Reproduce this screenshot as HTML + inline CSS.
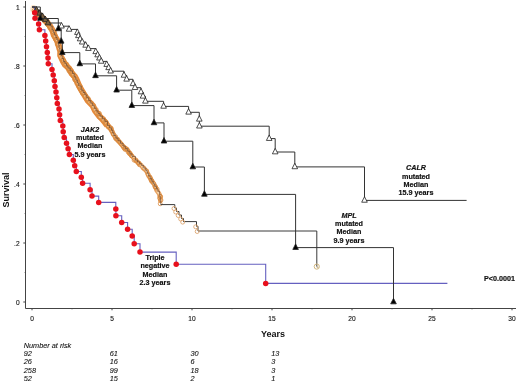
<!DOCTYPE html>
<html><head><meta charset="utf-8"><style>
html,body{margin:0;padding:0;background:#fff;}
svg{display:block;will-change:transform;}
</style></head><body>
<svg width="520" height="382" viewBox="0 0 520 382">
<rect width="520" height="382" fill="#fff"/>
<g stroke="#444" stroke-width="1" fill="none">
<path d="M25.5,1V308.5H516"/>
<path d="M23.3,302.0H25.5"/>
<path d="M23.3,243.0H25.5"/>
<path d="M23.3,184.0H25.5"/>
<path d="M23.3,125.0H25.5"/>
<path d="M23.3,66.0H25.5"/>
<path d="M23.3,7.0H25.5"/>
<path d="M24.3,272.5H25.5" stroke-width="0.7" opacity="0.6"/>
<path d="M24.3,213.5H25.5" stroke-width="0.7" opacity="0.6"/>
<path d="M24.3,154.5H25.5" stroke-width="0.7" opacity="0.6"/>
<path d="M24.3,95.5H25.5" stroke-width="0.7" opacity="0.6"/>
<path d="M24.3,36.5H25.5" stroke-width="0.7" opacity="0.6"/>
<path d="M32.0,308.5V310.3"/>
<path d="M72.0,308.5V309.6" stroke-width="0.8" opacity="0.6"/>
<path d="M112.0,308.5V310.3"/>
<path d="M152.0,308.5V309.6" stroke-width="0.8" opacity="0.6"/>
<path d="M192.0,308.5V310.3"/>
<path d="M232.0,308.5V309.6" stroke-width="0.8" opacity="0.6"/>
<path d="M272.0,308.5V310.3"/>
<path d="M312.0,308.5V309.6" stroke-width="0.8" opacity="0.6"/>
<path d="M352.0,308.5V310.3"/>
<path d="M392.0,308.5V309.6" stroke-width="0.8" opacity="0.6"/>
<path d="M432.0,308.5V310.3"/>
<path d="M472.0,308.5V309.6" stroke-width="0.8" opacity="0.6"/>
<path d="M512.0,308.5V310.3"/>
</g>
<g font-family="Liberation Sans, sans-serif" font-size="6.6" fill="#111" stroke="#111" stroke-width="0.12" text-anchor="end">
<text x="19.6" y="305.2">0</text>
<text x="19.6" y="246.2">.2</text>
<text x="19.6" y="187.2">.4</text>
<text x="19.6" y="128.2">.6</text>
<text x="19.6" y="69.2">.8</text>
<text x="19.6" y="10.2">1</text>
</g>
<g font-family="Liberation Sans, sans-serif" font-size="6.6" fill="#111" stroke="#111" stroke-width="0.12" text-anchor="middle">
<text x="32.0" y="320.6">0</text>
<text x="112.0" y="320.6">5</text>
<text x="192.0" y="320.6">10</text>
<text x="272.0" y="320.6">15</text>
<text x="352.0" y="320.6">20</text>
<text x="432.0" y="320.6">25</text>
<text x="512.0" y="320.6">30</text>
</g>
<text x="273" y="337.2" font-family="Liberation Sans, sans-serif" font-weight="bold" font-size="9" fill="#111" text-anchor="middle">Years</text>
<text transform="translate(9.3,190) rotate(-90)" font-family="Liberation Sans, sans-serif" font-weight="bold" font-size="9" fill="#111" text-anchor="middle">Survival</text>
<ellipse cx="33.5" cy="9" rx="3.2" ry="4" fill="#f7d6ae" opacity="0.7"/>
<polyline points="34.4,9.5 38.1,14.0 42.8,18.0 45.9,21.5 50.0,26.0 52.4,30.0 53.9,35.0 57.0,40.0 58.5,45.0 60.4,51.4 60.3,55.5 63.1,61.5 65.0,64.8 68.6,68.0 70.6,70.8 71.7,73.5 75.0,76.8 76.6,80.0 79.1,86.0 81.4,90.0 84.4,95.0 87.8,100.5 92.7,105.7 95.2,110.9 99.4,116.2 102.0,118.8 104.1,121.4 107.4,125.5" fill="none" stroke="#e6893a" stroke-width="6.2" stroke-linejoin="round" stroke-linecap="butt"/>
<polyline points="34.4,9.5 38.1,14.0 42.8,18.0 45.9,21.5 50.0,26.0 52.4,30.0 53.9,35.0 57.0,40.0 58.5,45.0 60.4,51.4 60.3,55.5 63.1,61.5 65.0,64.8 68.6,68.0 70.6,70.8 71.7,73.5 75.0,76.8 76.6,80.0 79.1,86.0 81.4,90.0 84.4,95.0 87.8,100.5 92.7,105.7 95.2,110.9 99.4,116.2 102.0,118.8 104.1,121.4 107.4,125.5" fill="none" stroke="#f2c48e" stroke-width="2.8" stroke-linejoin="round" stroke-linecap="butt"/>
<polyline points="107.4,125.5 110.0,127.8 111.5,130.2 114.0,135.5 115.9,138.1 118.2,140.7 120.4,143.3 122.7,146.0 126.0,148.6 128.4,151.2 130.3,153.8 132.3,156.4 135.2,160.2 138.2,162.8 141.4,165.5 143.2,168.1 146.4,170.7 148.5,175.9 150.6,178.6 151.5,181.2 153.9,183.8 155.3,186.4 156.5,190.1 159.1,193.7 160.5,197.0 160.3,200.8" fill="none" stroke="#e6a060" stroke-width="4.6" stroke-linejoin="round" stroke-linecap="round"/>
<polyline points="107.4,125.5 110.0,127.8 111.5,130.2 114.0,135.5 115.9,138.1 118.2,140.7 120.4,143.3 122.7,146.0 126.0,148.6 128.4,151.2 130.3,153.8 132.3,156.4 135.2,160.2 138.2,162.8 141.4,165.5 143.2,168.1 146.4,170.7 148.5,175.9 150.6,178.6 151.5,181.2 153.9,183.8 155.3,186.4 156.5,190.1 159.1,193.7 160.5,197.0 160.3,200.8" fill="none" stroke="#f6d3a8" stroke-width="2.2" stroke-linejoin="round" stroke-linecap="round"/>
<g fill="none" stroke="#da8a3e" stroke-width="0.75"><circle cx="34.5" cy="10.6" r="2.3"/><circle cx="35.9" cy="11.9" r="2.3"/><circle cx="38.4" cy="14.2" r="2.3"/><circle cx="40.1" cy="15.1" r="2.3"/><circle cx="40.3" cy="15.9" r="2.3"/><circle cx="42.2" cy="17.4" r="2.3"/><circle cx="42.3" cy="18.3" r="2.3"/><circle cx="45.8" cy="20.3" r="2.3"/><circle cx="46.6" cy="21.7" r="2.3"/><circle cx="47.4" cy="21.8" r="2.3"/><circle cx="47.8" cy="22.7" r="2.3"/><circle cx="47.3" cy="23.1" r="2.3"/><circle cx="48.3" cy="24.7" r="2.3"/><circle cx="49.3" cy="26.0" r="2.3"/><circle cx="50.1" cy="26.6" r="2.3"/><circle cx="50.0" cy="27.7" r="2.3"/><circle cx="51.2" cy="29.4" r="2.3"/><circle cx="53.4" cy="31.6" r="2.3"/><circle cx="53.0" cy="31.4" r="2.3"/><circle cx="54.3" cy="32.6" r="2.3"/><circle cx="55.0" cy="35.2" r="2.3"/><circle cx="54.5" cy="36.4" r="2.3"/><circle cx="55.1" cy="37.1" r="2.3"/><circle cx="56.1" cy="39.7" r="2.3"/><circle cx="56.2" cy="39.6" r="2.3"/><circle cx="56.6" cy="40.5" r="2.3"/><circle cx="57.6" cy="41.4" r="2.3"/><circle cx="58.4" cy="43.8" r="2.3"/><circle cx="58.3" cy="44.1" r="2.3"/><circle cx="57.6" cy="44.2" r="2.3"/><circle cx="59.6" cy="49.2" r="2.3"/><circle cx="60.7" cy="50.7" r="2.3"/><circle cx="60.6" cy="53.1" r="2.3"/><circle cx="62.1" cy="58.1" r="2.3"/><circle cx="63.1" cy="60.1" r="2.3"/><circle cx="63.3" cy="60.3" r="2.3"/><circle cx="63.7" cy="60.8" r="2.3"/><circle cx="64.9" cy="63.0" r="2.3"/><circle cx="65.8" cy="64.4" r="2.3"/><circle cx="66.6" cy="64.5" r="2.3"/><circle cx="67.5" cy="67.0" r="2.3"/><circle cx="68.3" cy="68.0" r="2.3"/><circle cx="69.3" cy="68.4" r="2.3"/><circle cx="69.0" cy="69.9" r="2.3"/><circle cx="69.4" cy="71.0" r="2.3"/><circle cx="70.5" cy="71.8" r="2.3"/><circle cx="71.5" cy="71.4" r="2.3"/><circle cx="72.3" cy="73.4" r="2.3"/><circle cx="73.1" cy="74.1" r="2.3"/><circle cx="73.4" cy="75.9" r="2.3"/><circle cx="74.8" cy="79.0" r="2.3"/><circle cx="75.3" cy="79.9" r="2.3"/><circle cx="76.3" cy="80.7" r="2.3"/><circle cx="77.1" cy="83.3" r="2.3"/><circle cx="79.1" cy="86.1" r="2.3"/><circle cx="79.9" cy="86.2" r="2.3"/><circle cx="79.9" cy="87.2" r="2.3"/><circle cx="80.6" cy="89.3" r="2.3"/><circle cx="81.7" cy="91.0" r="2.3"/><circle cx="83.0" cy="92.4" r="2.3"/><circle cx="82.6" cy="92.5" r="2.3"/><circle cx="83.0" cy="93.3" r="2.3"/><circle cx="84.6" cy="94.8" r="2.3"/><circle cx="85.6" cy="96.1" r="2.3"/><circle cx="87.3" cy="98.4" r="2.3"/><circle cx="88.2" cy="99.0" r="2.3"/><circle cx="88.0" cy="99.8" r="2.3"/><circle cx="89.5" cy="102.0" r="2.3"/><circle cx="91.5" cy="103.5" r="2.3"/><circle cx="93.5" cy="106.1" r="2.3"/><circle cx="95.9" cy="109.7" r="2.3"/><circle cx="96.7" cy="112.6" r="2.3"/><circle cx="98.4" cy="113.5" r="2.3"/><circle cx="99.2" cy="113.7" r="2.3"/><circle cx="99.7" cy="116.7" r="2.3"/><circle cx="100.1" cy="117.0" r="2.3"/><circle cx="103.5" cy="119.2" r="2.3"/><circle cx="103.8" cy="120.7" r="2.3"/><circle cx="105.3" cy="121.6" r="2.3"/><circle cx="106.1" cy="122.5" r="2.3"/><circle cx="106.0" cy="124.0" r="2.3"/><circle cx="108.1" cy="126.2" r="2.3"/><circle cx="108.3" cy="125.8" r="2.3"/><circle cx="108.8" cy="127.2" r="2.3"/><circle cx="110.3" cy="127.9" r="2.3"/><circle cx="110.6" cy="128.7" r="2.3"/><circle cx="111.1" cy="128.7" r="2.3"/><circle cx="111.4" cy="130.9" r="1.95"/><circle cx="112.4" cy="131.7" r="1.95"/><circle cx="113.4" cy="134.0" r="1.95"/><circle cx="113.0" cy="133.9" r="1.95"/><circle cx="115.6" cy="136.5" r="1.95"/><circle cx="115.5" cy="138.4" r="1.95"/><circle cx="116.4" cy="139.2" r="1.95"/><circle cx="117.7" cy="139.2" r="1.95"/><circle cx="117.6" cy="140.2" r="1.95"/><circle cx="118.6" cy="141.3" r="1.95"/><circle cx="119.5" cy="141.7" r="1.95"/><circle cx="120.4" cy="143.2" r="1.95"/><circle cx="121.4" cy="143.9" r="1.95"/><circle cx="122.7" cy="145.7" r="1.95"/><circle cx="123.4" cy="147.4" r="1.95"/><circle cx="125.1" cy="148.1" r="1.95"/><circle cx="124.6" cy="148.6" r="1.95"/><circle cx="125.0" cy="149.5" r="1.95"/><circle cx="126.8" cy="149.1" r="1.95"/><circle cx="127.3" cy="149.7" r="1.95"/><circle cx="128.0" cy="151.9" r="1.95"/><circle cx="129.1" cy="153.3" r="1.95"/><circle cx="130.1" cy="153.3" r="1.95"/><circle cx="129.9" cy="153.9" r="1.95"/><circle cx="131.3" cy="155.6" r="1.95"/><circle cx="131.5" cy="155.9" r="1.95"/><circle cx="134.1" cy="160.2" r="1.95"/><circle cx="135.9" cy="159.9" r="1.95"/><circle cx="136.3" cy="160.8" r="1.95"/><circle cx="138.1" cy="162.7" r="1.95"/><circle cx="138.5" cy="163.2" r="1.95"/><circle cx="138.9" cy="163.0" r="1.95"/><circle cx="139.4" cy="164.8" r="1.95"/><circle cx="144.0" cy="168.1" r="1.95"/><circle cx="146.7" cy="171.1" r="1.95"/><circle cx="148.2" cy="174.4" r="1.95"/><circle cx="150.0" cy="177.0" r="1.95"/><circle cx="150.1" cy="177.8" r="1.95"/><circle cx="150.9" cy="179.6" r="1.95"/><circle cx="151.9" cy="180.6" r="1.95"/><circle cx="152.0" cy="181.3" r="1.95"/><circle cx="153.5" cy="183.2" r="1.95"/><circle cx="155.0" cy="186.8" r="1.95"/><circle cx="155.2" cy="186.6" r="1.95"/><circle cx="155.8" cy="187.6" r="1.95"/><circle cx="157.2" cy="189.2" r="1.95"/><circle cx="159.9" cy="196.3" r="1.95"/><circle cx="160.6" cy="196.5" r="1.95"/><circle cx="159.5" cy="198.1" r="1.95"/><circle cx="161.0" cy="200.1" r="1.95"/><circle cx="160.2" cy="203.8" r="1.95"/></g>
<path d="M32.0,7.0H34.5V9.5H36.2V11.8H38.0V14.0H40.0V16.0H42.0V18.0H44.0V19.8H46.0V21.5H48.0V23.8H50.0V26.0H52.2V30.0H53.4V32.5H54.5V35.0H55.8V37.5H57.0V40.0H58.3V45.0H59.1V48.2H59.9V51.4H61.0V55.5H62.2V58.5H63.5V61.5H65.0V63.7H66.5V65.8H68.0V68.0H70.2V70.8H72.5V73.5H74.2V76.8H75.8V80.0H77.3V83.0H78.8V86.0H81.2V90.0H83.1V92.5H85.0V95.0H86.8V97.8H88.7V100.5H90.7V103.1H92.6V105.7H94.3V108.3H96.0V110.9H98.0V113.6H100.0V116.2H102.5V118.8H104.9V121.4H107.5V125.5H109.5V127.8H111.5V130.2H112.7V132.8H113.8V135.5H115.9V138.1H118.0V140.7H120.5V143.3H123.0V146.0H125.3V148.6H127.7V151.2H129.8V153.8H132.0V156.4H135.5V160.2H137.6V162.0H139.6V163.7H141.7V165.5H143.8V168.1H146.0V170.7H147.3V173.3H148.6V175.9H150.1V178.6H151.7V181.2H153.2V183.8H154.8V186.4H156.4V188.8H157.9V191.3H159.5V193.7H159.9V197.0H160.3V200.8H160.7V204.6" fill="none" stroke="#5e4434" stroke-width="0.75" opacity="0.85"/>
<path d="M160.7,204.6H174.8V208H176.5V211.5H179V215H181.5V218.5H183.5V221.6H196.5V226.3H198V231H316.8V266.6" fill="none" stroke="#3a3a3a" stroke-width="1"/>
<circle cx="174.0" cy="208.5" r="2.0" fill="none" stroke="#dca26a" stroke-width="0.85"/>
<circle cx="175.7" cy="212.0" r="2.0" fill="none" stroke="#dca26a" stroke-width="0.85"/>
<circle cx="178.2" cy="215.5" r="2.0" fill="none" stroke="#dca26a" stroke-width="0.85"/>
<circle cx="180.7" cy="219.0" r="2.0" fill="none" stroke="#dca26a" stroke-width="0.85"/>
<circle cx="182.7" cy="222.1" r="2.0" fill="none" stroke="#dca26a" stroke-width="0.85"/>
<circle cx="195.7" cy="226.8" r="2.0" fill="none" stroke="#dca26a" stroke-width="0.85"/>
<circle cx="197.2" cy="231.5" r="2.0" fill="none" stroke="#dca26a" stroke-width="0.85"/>
<circle cx="316.8" cy="266.6" r="2.6" fill="none" stroke="#d2b880" stroke-width="1"/>
<circle cx="317.6" cy="267.2" r="1.0" fill="#b8a070" opacity="0.7"/>
<path d="M32,7H34.7V12.67H35V18.35H38.6V24H39.4V29.7H44.9V35.4H45.7V41H46.5V46.7H47.3V52.4H48V58H48.3V63.7H52V69.4H53.2V75H54.3V80.7H55V86.4H56V92H56.8V97.8H57.3V103.4H59V109.1H59.6V114.8H60.3V120.5H62.8V126.1H63.2V131.8H64.2V137.5H66.5V143.2H68.1V148.8H69.4V154.5H73.3V160.2H74.7V165.8H76.3V171.5H81.3V177.2H82.6V183.2H90.1V189.8H92V196.1H98.7V202.4H115.8V209H115.9V215.7H121.7V222.5H127.6V229.3H132.2V235.9H134.2V243.7H140V252.1H176.2V264.3H265.7V283.4H447.4" fill="none" stroke="#6560c0" stroke-width="1.1"/>
<path d="M32,7H36.5V10.2H39.5V13.4H42.5V16.6H45.3V19.8H48V23.0H61.5V26.2H69.1V29.4H77.4V32.6H78.4V35.8H80.1V39.0H82.2V42.2H85.6V45.4H88.4V48.6H95.7V51.8H97.6V55.0H99.4V58.2H101.2V61.4H106.7V64.6H108.6V67.8H110.6V71.2H124V75.4H126.6V79.3H133V83.8H135V87.7H141V92.0H143V96.3H145.4V101.3H163.6V106.4H188.6V112.3H199.3V119.3H199.4V126.2H269.2V138.6H275.2V152.0H294.8V166.9H364.5V200.4H466.6" fill="none" stroke="#333" stroke-width="1"/>
<path d="M36.5,6.53L39.3,12.03L33.7,12.03Z" fill="#7a6040" stroke="#222" stroke-width="0.8"/>
<path d="M39.5,9.73L42.3,15.23L36.7,15.23Z" fill="#7a6040" stroke="#222" stroke-width="0.8"/>
<path d="M42.5,12.93L45.3,18.43L39.7,18.43Z" fill="#7a6040" stroke="#222" stroke-width="0.8"/>
<path d="M45.3,16.13L48.099999999999994,21.63L42.5,21.63Z" fill="#7a6040" stroke="#222" stroke-width="0.8"/>
<path d="M48,19.33L50.8,24.83L45.2,24.83Z" fill="#7a6040" stroke="#222" stroke-width="0.8"/>
<path d="M61.5,22.53L64.3,28.03L58.7,28.03Z" fill="#fff" stroke="#222" stroke-width="0.8"/>
<path d="M69.1,25.73L71.89999999999999,31.23L66.3,31.23Z" fill="#fff" stroke="#222" stroke-width="0.8"/>
<path d="M77.4,28.93L80.2,34.43L74.60000000000001,34.43Z" fill="#fff" stroke="#222" stroke-width="0.8"/>
<path d="M78.4,32.13L81.2,37.63L75.60000000000001,37.63Z" fill="#fff" stroke="#222" stroke-width="0.8"/>
<path d="M80.1,35.33L82.89999999999999,40.83L77.3,40.83Z" fill="#fff" stroke="#222" stroke-width="0.8"/>
<path d="M82.2,38.53L85.0,44.03L79.4,44.03Z" fill="#fff" stroke="#222" stroke-width="0.8"/>
<path d="M85.6,41.73L88.39999999999999,47.23L82.8,47.23Z" fill="#fff" stroke="#222" stroke-width="0.8"/>
<path d="M88.4,44.93L91.2,50.43L85.60000000000001,50.43Z" fill="#fff" stroke="#222" stroke-width="0.8"/>
<path d="M95.7,48.13L98.5,53.63L92.9,53.63Z" fill="#fff" stroke="#222" stroke-width="0.8"/>
<path d="M97.6,51.33L100.39999999999999,56.83L94.8,56.83Z" fill="#fff" stroke="#222" stroke-width="0.8"/>
<path d="M99.4,54.53L102.2,60.03L96.60000000000001,60.03Z" fill="#fff" stroke="#222" stroke-width="0.8"/>
<path d="M101.2,57.73L104.0,63.23L98.4,63.23Z" fill="#fff" stroke="#222" stroke-width="0.8"/>
<path d="M106.7,60.93L109.5,66.43L103.9,66.43Z" fill="#fff" stroke="#222" stroke-width="0.8"/>
<path d="M108.6,64.13L111.39999999999999,69.63L105.8,69.63Z" fill="#fff" stroke="#222" stroke-width="0.8"/>
<path d="M110.6,67.53L113.39999999999999,73.03L107.8,73.03Z" fill="#fff" stroke="#222" stroke-width="0.8"/>
<path d="M124,71.73L126.8,77.23L121.2,77.23Z" fill="#fff" stroke="#222" stroke-width="0.8"/>
<path d="M126.6,75.63L129.4,81.13L123.8,81.13Z" fill="#fff" stroke="#222" stroke-width="0.8"/>
<path d="M133,80.13L135.8,85.63L130.2,85.63Z" fill="#fff" stroke="#222" stroke-width="0.8"/>
<path d="M135,84.03L137.8,89.53L132.2,89.53Z" fill="#fff" stroke="#222" stroke-width="0.8"/>
<path d="M141,88.33L143.8,93.83L138.2,93.83Z" fill="#fff" stroke="#222" stroke-width="0.8"/>
<path d="M143,92.63L145.8,98.13L140.2,98.13Z" fill="#fff" stroke="#222" stroke-width="0.8"/>
<path d="M145.4,97.63L148.20000000000002,103.13L142.6,103.13Z" fill="#fff" stroke="#222" stroke-width="0.8"/>
<path d="M163.6,102.73L166.4,108.23L160.79999999999998,108.23Z" fill="#fff" stroke="#222" stroke-width="0.8"/>
<path d="M188.6,108.63L191.4,114.13L185.79999999999998,114.13Z" fill="#fff" stroke="#222" stroke-width="0.8"/>
<path d="M199.3,115.63L202.10000000000002,121.13L196.5,121.13Z" fill="#fff" stroke="#222" stroke-width="0.8"/>
<path d="M199.4,122.53L202.20000000000002,128.03L196.6,128.03Z" fill="#fff" stroke="#222" stroke-width="0.8"/>
<path d="M269.2,134.93L272.0,140.43L266.4,140.43Z" fill="#fff" stroke="#222" stroke-width="0.8"/>
<path d="M275.2,148.33L278.0,153.83L272.4,153.83Z" fill="#fff" stroke="#222" stroke-width="0.8"/>
<path d="M294.8,163.23L297.6,168.73L292.0,168.73Z" fill="#fff" stroke="#222" stroke-width="0.8"/>
<path d="M364.5,196.73L367.3,202.23L361.7,202.23Z" fill="#fff" stroke="#222" stroke-width="0.8"/>
<path d="M32,7H40.3V18.5H58.3V28.9H61.2V41.3H62.3V52.6H79.8V63.9H95.5V75.8H116.6V90.2H131.8V105.6H154V122.9H164V141.2H192.8V167H204.4V194.4H295.6V247.6H393.5V302" fill="none" stroke="#333" stroke-width="1"/>
<path d="M40.3,14.83L43.099999999999994,20.33L37.5,20.33Z" fill="#000" stroke="#222" stroke-width="0.8"/>
<path d="M58.3,25.23L61.099999999999994,30.73L55.5,30.73Z" fill="#000" stroke="#222" stroke-width="0.8"/>
<path d="M61.2,37.63L64.0,43.13L58.400000000000006,43.13Z" fill="#000" stroke="#222" stroke-width="0.8"/>
<path d="M62.3,48.93L65.1,54.43L59.5,54.43Z" fill="#000" stroke="#222" stroke-width="0.8"/>
<path d="M79.8,60.23L82.6,65.73L77.0,65.73Z" fill="#000" stroke="#222" stroke-width="0.8"/>
<path d="M95.5,72.13L98.3,77.63L92.7,77.63Z" fill="#000" stroke="#222" stroke-width="0.8"/>
<path d="M116.6,86.53L119.39999999999999,92.03L113.8,92.03Z" fill="#000" stroke="#222" stroke-width="0.8"/>
<path d="M131.8,101.93L134.60000000000002,107.43L129.0,107.43Z" fill="#000" stroke="#222" stroke-width="0.8"/>
<path d="M154,119.23L156.8,124.73L151.2,124.73Z" fill="#000" stroke="#222" stroke-width="0.8"/>
<path d="M164,137.53L166.8,143.03L161.2,143.03Z" fill="#000" stroke="#222" stroke-width="0.8"/>
<path d="M192.8,163.33L195.60000000000002,168.83L190.0,168.83Z" fill="#000" stroke="#222" stroke-width="0.8"/>
<path d="M204.4,190.73L207.20000000000002,196.23L201.6,196.23Z" fill="#000" stroke="#222" stroke-width="0.8"/>
<path d="M295.6,243.93L298.40000000000003,249.43L292.8,249.43Z" fill="#000" stroke="#222" stroke-width="0.8"/>
<path d="M393.5,298.33L396.3,303.83L390.7,303.83Z" fill="#000" stroke="#222" stroke-width="0.8"/>
<circle cx="34.7" cy="12.67" r="2.75" fill="#e8101c"/>
<circle cx="35" cy="18.35" r="2.75" fill="#e8101c"/>
<circle cx="38.6" cy="24" r="2.75" fill="#e8101c"/>
<circle cx="39.4" cy="29.7" r="2.75" fill="#e8101c"/>
<circle cx="44.9" cy="35.4" r="2.75" fill="#e8101c"/>
<circle cx="45.7" cy="41" r="2.75" fill="#e8101c"/>
<circle cx="46.5" cy="46.7" r="2.75" fill="#e8101c"/>
<circle cx="47.3" cy="52.4" r="2.75" fill="#e8101c"/>
<circle cx="48" cy="58" r="2.75" fill="#e8101c"/>
<circle cx="48.3" cy="63.7" r="2.75" fill="#e8101c"/>
<circle cx="52" cy="69.4" r="2.75" fill="#e8101c"/>
<circle cx="53.2" cy="75" r="2.75" fill="#e8101c"/>
<circle cx="54.3" cy="80.7" r="2.75" fill="#e8101c"/>
<circle cx="55" cy="86.4" r="2.75" fill="#e8101c"/>
<circle cx="56" cy="92" r="2.75" fill="#e8101c"/>
<circle cx="56.8" cy="97.8" r="2.75" fill="#e8101c"/>
<circle cx="57.3" cy="103.4" r="2.75" fill="#e8101c"/>
<circle cx="59" cy="109.1" r="2.75" fill="#e8101c"/>
<circle cx="59.6" cy="114.8" r="2.75" fill="#e8101c"/>
<circle cx="60.3" cy="120.5" r="2.75" fill="#e8101c"/>
<circle cx="62.8" cy="126.1" r="2.75" fill="#e8101c"/>
<circle cx="63.2" cy="131.8" r="2.75" fill="#e8101c"/>
<circle cx="64.2" cy="137.5" r="2.75" fill="#e8101c"/>
<circle cx="66.5" cy="143.2" r="2.75" fill="#e8101c"/>
<circle cx="68.1" cy="148.8" r="2.75" fill="#e8101c"/>
<circle cx="69.4" cy="154.5" r="2.75" fill="#e8101c"/>
<circle cx="73.3" cy="160.2" r="2.75" fill="#e8101c"/>
<circle cx="74.7" cy="165.8" r="2.75" fill="#e8101c"/>
<circle cx="76.3" cy="171.5" r="2.75" fill="#e8101c"/>
<circle cx="81.3" cy="177.2" r="2.75" fill="#e8101c"/>
<circle cx="82.6" cy="183.2" r="2.75" fill="#e8101c"/>
<circle cx="90.1" cy="189.8" r="2.75" fill="#e8101c"/>
<circle cx="92" cy="196.1" r="2.75" fill="#e8101c"/>
<circle cx="98.7" cy="202.4" r="2.75" fill="#e8101c"/>
<circle cx="115.8" cy="209" r="2.75" fill="#e8101c"/>
<circle cx="115.9" cy="215.7" r="2.75" fill="#e8101c"/>
<circle cx="121.7" cy="222.5" r="2.75" fill="#e8101c"/>
<circle cx="127.6" cy="229.3" r="2.75" fill="#e8101c"/>
<circle cx="132.2" cy="235.9" r="2.75" fill="#e8101c"/>
<circle cx="134.2" cy="243.7" r="2.75" fill="#e8101c"/>
<circle cx="140" cy="252.1" r="2.75" fill="#e8101c"/>
<circle cx="176.2" cy="264.3" r="2.75" fill="#e8101c"/>
<circle cx="265.7" cy="283.4" r="2.75" fill="#e8101c"/>
<g font-family="Liberation Sans, sans-serif" font-weight="bold" font-size="7.2" fill="#111" stroke="#111" stroke-width="0.18" text-anchor="middle">
<text x="90" y="132.0" font-style="italic">JAK2</text><text x="90" y="140.2">mutated</text><text x="90" y="148.4">Median</text><text x="90" y="156.6">5.9 years</text>
<text x="416" y="170.4" font-style="italic">CALR</text><text x="416" y="178.6">mutated</text><text x="416" y="186.8">Median</text><text x="416" y="195.0">15.9 years</text>
<text x="349" y="218.0" font-style="italic">MPL</text><text x="349" y="226.2">mutated</text><text x="349" y="234.4">Median</text><text x="349" y="242.6">9.9 years</text>
<text x="155" y="260.1">Triple</text><text x="155" y="268.3">negative</text><text x="155" y="276.5">Median</text><text x="155" y="284.7">2.3 years</text>
<text x="499.5" y="280.8">P&lt;0.0001</text>
</g>
<g font-family="Liberation Sans, sans-serif" font-style="italic" font-size="7.3" fill="#111" stroke="#111" stroke-width="0.1">
<text x="23.8" y="348.3">Number at risk</text>
<text x="23.8" y="355.9">92</text>
<text x="109.8" y="355.9">61</text>
<text x="190.5" y="355.9">30</text>
<text x="271.3" y="355.9">13</text>
<text x="23.8" y="364.2">26</text>
<text x="109.8" y="364.2">16</text>
<text x="190.5" y="364.2">6</text>
<text x="271.3" y="364.2">3</text>
<text x="23.8" y="372.5">258</text>
<text x="109.8" y="372.5">99</text>
<text x="190.5" y="372.5">18</text>
<text x="271.3" y="372.5">3</text>
<text x="23.8" y="380.8">52</text>
<text x="109.8" y="380.8">15</text>
<text x="190.5" y="380.8">2</text>
<text x="271.3" y="380.8">1</text>
</g>
</svg>
</body></html>
